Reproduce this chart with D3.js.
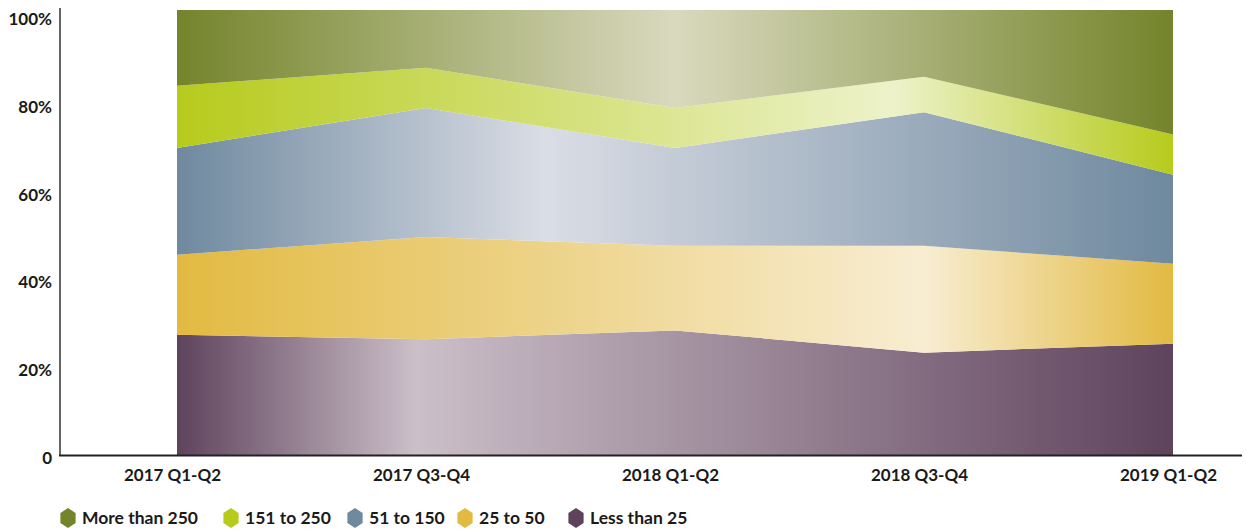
<html>
<head>
    <style>
        body { margin: 0; background-color: #fff; }
        text { font-family: Lato, "Open Sans", sans-serif; font-weight: 700; fill: #1a1a1a; }
    </style>
    <script src="https://d3js.org/d3.v7.min.js"></script>
</head>
<body>
<div id="chart"></div>
<script>
    // periods on the x axis
    var categories = ["2017 Q1-Q2", "2017 Q3-Q4", "2018 Q1-Q2", "2018 Q3-Q4", "2019 Q1-Q2"];

    // share of each group, percent (bottom to top of the stack)
    var lessThan25  = [27, 26, 28, 23, 25];
    var from25to50  = [18, 23, 19, 24, 18];
    var from51to150 = [24, 29, 22, 30, 20];
    var from151to250 = [14, 9, 9, 8, 9];
    var moreThan250 = [17, 13, 22, 15, 28];

    var seriesNames = ["Less than 25", "25 to 50", "51 to 150", "151 to 250", "More than 250"];
    var legendOrder = ["More than 250", "151 to 250", "51 to 150", "25 to 50", "Less than 25"];
    var yTicks = [0, 20, 40, 60, 80, 100];

    // colours: base colour, light colour, and where the light band sits (0..1)
    var colors = {
        "Less than 25":  { base: "#5f435d", light: "#cbbfc8", at: 0.24 },
        "25 to 50":      { base: "#e2ba42", light: "#f8edd2", at: 0.75 },
        "51 to 150":     { base: "#6f899f", light: "#dadde5", at: 0.37 },
        "151 to 250":    { base: "#b6cb1c", light: "#edf2ca", at: 0.72 },
        "More than 250": { base: "#74842b", light: "#d9d9be", at: 0.50 }
    };

    var table = categories.map(function (c, i) {
        return {
            period: c,
            "Less than 25": lessThan25[i],
            "25 to 50": from25to50[i],
            "51 to 150": from51to150[i],
            "151 to 250": from151to250[i],
            "More than 250": moreThan250[i]
        };
    });

    var width = 1246, height = 530;
    var svg = d3.select("#chart").append("svg")
        .attr("width", width)
        .attr("height", height);

    var x = d3.scalePoint().domain(categories).range([177, 1173]);
    var y = d3.scaleLinear().domain([0, 100]).range([455, 10]);
    // tick labels sit on a slightly different spacing than the plot
    var yLabel = d3.scaleLinear().domain([0, 100]).range([458, 19]);

    var stack = d3.stack().keys(seriesNames);
    var layers = stack(table);

    var defs = svg.append("defs");
    seriesNames.forEach(function (name, i) {
        var c = colors[name];
        var g = defs.append("linearGradient")
            .attr("id", "grad" + i)
            .attr("gradientUnits", "userSpaceOnUse")
            .attr("x1", x.range()[0]).attr("x2", x.range()[1])
            .attr("y1", 0).attr("y2", 0);
        g.append("stop").attr("offset", 0).attr("stop-color", c.base);
        g.append("stop").attr("offset", c.at).attr("stop-color", c.light);
        g.append("stop").attr("offset", 1).attr("stop-color", c.base);
    });

    var area = d3.area()
        .x(function (d) { return x(d.data.period); })
        .y0(function (d) { return y(d[0]); })
        .y1(function (d) { return y(d[1]); });

    svg.selectAll("path.layer")
        .data(layers)
        .enter()
        .append("path")
        .attr("class", "layer")
        .attr("d", area)
        .attr("fill", function (d, i) { return "url(#grad" + i + ")"; });

    // axes lines
    svg.append("line")
        .attr("x1", 60).attr("x2", 60)
        .attr("y1", 8).attr("y2", 456)
        .attr("stroke", "#333").attr("stroke-width", 1.5);
    svg.append("line")
        .attr("x1", 59).attr("x2", 1242)
        .attr("y1", 455.5).attr("y2", 455.5)
        .attr("stroke", "#222").attr("stroke-width", 2);

    // y tick labels
    var yAxis = d3.axisLeft(yLabel)
        .tickValues(yTicks)
        .tickSize(0)
        .tickPadding(0)
        .tickFormat(function (d) { return d === 0 ? "0" : d + "%"; });
    var gy = svg.append("g").attr("transform", "translate(52,0)").call(yAxis);
    gy.select(".domain").remove();
    gy.selectAll("text")
        .style("font-family", "Lato, sans-serif")
        .style("font-weight", 700)
        .style("font-size", "17px")
        .attr("fill", "#1a1a1a");

    // x tick labels
    var xAxis = d3.axisBottom(x).tickSize(0).tickPadding(0);
    var gx = svg.append("g").attr("transform", "translate(-5,469)").call(xAxis);
    gx.select(".domain").remove();
    gx.selectAll("text")
        .style("font-family", "Lato, sans-serif")
        .style("font-weight", 700)
        .style("font-size", "17px")
        .attr("fill", "#1a1a1a");

    // legend
    var legendX = [68, 231, 355, 465, 576];
    var hex = function (cx, cy, r) {
        var pts = [];
        for (var k = 0; k < 6; k++) {
            var a = Math.PI / 3 * k - Math.PI / 2;
            pts.push([cx + r * 0.88 * Math.cos(a), cy + r * Math.sin(a)]);
        }
        return pts.map(function (p) { return p.join(","); }).join(" ");
    };
    var legend = svg.append("g");
    legendOrder.forEach(function (name, i) {
        var g = legend.append("g");
        g.append("polygon")
            .attr("points", hex(legendX[i], 518, 10))
            .attr("fill", colors[name].base);
        g.append("text")
            .attr("x", legendX[i] + 14)
            .attr("y", 518)
            .attr("dy", "0.35em")
            .style("font-size", "17.5px")
            .text(name);
    });
</script>
</body>
</html>
